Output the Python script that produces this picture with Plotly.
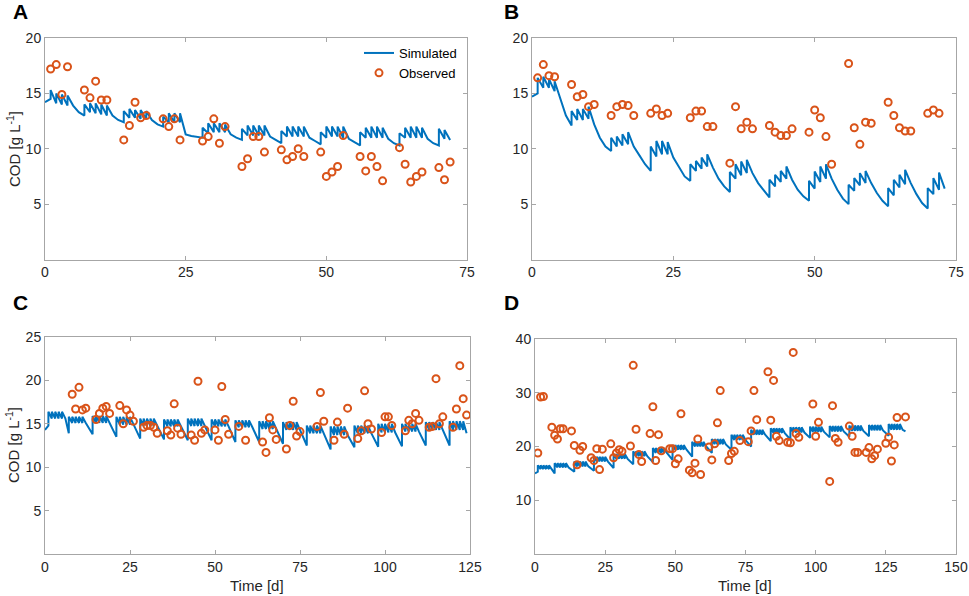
import plotly.graph_objects as go
from plotly.subplots import make_subplots

# ---- panel A: simulated line, read per feeding day ----
a_start = (0, 14.2)
a_days = [[1, 2, 3, 4], [7, 8, 9, 10, 11], [14, 15, 16, 17, 18], [21, 22, 23, 24],
          [28, 29, 30, 31, 32], [35, 36, 37, 38, 39], [42, 43, 44, 45, 46],
          [49, 50, 51, 52, 53], [56, 57, 58, 59, 60], [63, 64, 65, 66, 67], [70, 71]]
a_troughs = [[14.5, 14.1, 14.0, 13.9], [13.0, 13.3, 13.2, 13.1, 13.0], [12.4, 12.8, 12.8, 12.7, 12.7],
             [12.0, 12.4, 12.4, 12.4], [11.0, 11.4, 11.5, 11.5, 11.5], [10.8, 11.2, 11.2, 11.2, 11.2],
             [10.5, 11.1, 11.1, 11.1, 11.1], [10.4, 11.0, 11.1, 11.1, 11.0], [10.3, 11.0, 11.0, 11.0, 11.0],
             [10.3, 11.0, 11.0, 11.0, 11.0], [10.3, 10.9]]
a_peaks = [[15.3, 15.0, 14.9, 14.8], [14.0, 14.1, 14.1, 14.0, 13.9], [13.4, 13.6, 13.5, 13.5, 13.4],
           [12.9, 13.2, 13.2, 13.2], [11.9, 12.3, 12.3, 12.3, 12.2], [11.8, 12.1, 12.1, 12.1, 12.1],
           [11.6, 12.0, 12.0, 12.0, 12.0], [11.5, 12.0, 12.0, 12.0, 12.0], [11.5, 11.9, 12.0, 12.0, 11.9],
           [11.4, 11.9, 12.0, 12.0, 11.9], [11.8, 11.7]]
a_decay = [[13.9, 13.3], [13.0, 12.6], [12.6, 12.2], [11.3, 11.15, 11.05], [11.3, 11.0], [11.1, 10.8],
           [11.0, 10.7], [10.9, 10.6], [10.9, 10.5], [10.9, 10.5], [10.8]]

a_obs_t = [1, 2, 3, 4, 7, 8, 9, 10, 11, 14, 15, 16, 17, 18, 21, 22, 23, 24, 28, 29, 30, 31, 32,
           35, 36, 37, 38, 39, 42, 43, 44, 45, 46, 49, 50, 51, 52, 53, 56, 57, 58, 59, 60,
           63, 64, 65, 66, 67, 70, 71, 72]
a_obs_y = [17.2, 17.6, 14.9, 17.4, 15.3, 14.6, 16.1, 14.4, 14.4, 10.8, 12.1, 14.2, 12.8, 13.0,
           12.7, 12.0, 12.7, 10.8, 10.7, 11.1, 12.7, 10.5, 12.0, 8.4, 9.1, 11.1, 11.1, 9.7,
           9.9, 9.0, 9.3, 10.0, 9.3, 9.7, 7.5, 7.9, 8.4, 11.2, 9.3, 8.0, 9.3, 8.4, 7.1,
           10.1, 8.6, 7.0, 7.5, 7.9, 8.3, 7.2, 8.8]

# ---- panel B ----
b_start = (0, 14.7)
b_days = [[1, 2, 3, 4], [7, 8, 9, 10], [14, 15, 16, 17], [21, 22, 23, 24], [28, 29, 30, 31],
          [35, 36, 37, 38], [42, 43, 44, 45], [49, 50, 51, 52], [56, 57, 58, 59],
          [63, 64, 65, 66], [70, 71, 72]]
b_troughs = [[15.0, 15.5, 15.5, 15.2], [12.1, 12.6, 12.6, 12.7], [9.8, 10.2, 10.3, 10.4],
             [8.0, 9.3, 9.5, 9.5], [7.1, 8.0, 8.2, 8.4], [6.1, 7.3, 7.6, 7.8], [5.6, 6.6, 7.0, 7.3],
             [5.3, 6.4, 7.0, 7.3], [5.0, 6.2, 6.7, 6.9], [4.8, 5.8, 6.5, 6.8], [4.6, 5.9, 6.3]]
b_peaks = [[16.4, 16.5, 16.3, 16.1], [13.4, 13.6, 13.6, 13.8], [11.0, 11.1, 11.3, 11.5],
           [10.2, 10.7, 10.7, 10.6], [8.6, 8.9, 9.2, 9.5], [7.9, 8.6, 8.85, 9.0], [7.2, 7.65, 8.0, 8.4],
           [7.1, 7.95, 8.4, 8.6], [6.75, 7.35, 7.8, 8.0], [6.45, 7.2, 7.65, 8.1], [6.45, 7.35, 7.85]]
b_decay = [[14.5, 13.0], [12.2, 11.0, 10.2], [10.2, 9.4, 8.6], [9.2, 8.3, 7.5], [8.3, 7.3, 6.6],
           [7.8, 6.9, 6.2], [7.2, 6.3, 5.7], [7.3, 6.3, 5.5], [6.9, 6.0, 5.3], [6.9, 5.9, 5.1], [6.4]]

b_obs_t = [1, 2, 3, 4, 7, 8, 9, 10, 11, 14, 15, 16, 17, 18, 21, 22, 23, 24, 28, 29, 30, 31, 32,
           35, 36, 37, 38, 39, 42, 43, 44, 45, 46, 49, 50, 51, 52, 53, 56, 57, 58, 59, 60,
           63, 64, 65, 66, 67, 70, 71, 72]
b_obs_y = [16.4, 17.6, 16.6, 16.5, 15.8, 14.7, 14.9, 13.8, 14.0, 13.0, 13.8, 14.0, 13.9, 13.0,
           13.2, 13.6, 13.0, 13.2, 12.8, 13.4, 13.4, 12.0, 12.0, 8.7, 13.8, 11.8, 12.4, 11.8,
           12.1, 11.5, 11.2, 11.2, 11.8, 11.5, 13.5, 12.8, 11.1, 8.6, 17.7, 11.9, 10.4, 12.4, 12.3,
           14.2, 13.0, 11.9, 11.6, 11.6, 13.2, 13.5, 13.2]

# ---- panel C: weekly levels of the simulated line ----
c_start = (0, 14.3)
c_weeks = [1, 7, 14, 21, 28, 35, 42, 49, 56, 63, 70, 77, 84, 91, 98, 105, 112, 119]
c_low = [14.8, 13.9, 13.8, 13.5, 13.3, 13.2, 13.1, 13.1, 12.9, 12.9, 12.7, 12.5, 12.05, 12.3,
         12.35, 12.4, 12.5, 12.5]
c_trough = [15.6, 15.1, 15.1, 14.9, 14.75, 14.7, 14.75, 14.7, 14.6, 14.4, 14.3, 13.9, 13.7, 13.9,
            14.0, 14.1, 14.3, 14.3]
c_peak = [16.4, 15.8, 15.9, 15.8, 15.6, 15.5, 15.6, 15.5, 15.4, 15.3, 15.2, 14.8, 14.7, 14.8,
          15.0, 15.0, 15.2, 15.3]
c_end = [13.9]

c_obs_t = [8, 9, 10, 11, 12, 15, 16, 17, 18, 19, 22, 23, 24, 25, 26, 29, 30, 31, 32, 33,
           36, 37, 38, 39, 40, 43, 44, 45, 46, 47, 50, 51, 52, 53, 54, 57, 59, 64, 65, 66, 67, 68,
           71, 72, 73, 74, 75, 80, 81, 82, 85, 86, 88, 89, 92, 93, 94, 95, 96, 99, 100, 101, 102,
           106, 107, 108, 109, 110, 113, 114, 115, 116, 117, 120, 121, 122, 123, 124]
c_obs_y = [18.4, 16.7, 19.2, 16.6, 16.8, 15.5, 16.2, 16.8, 17.0, 16.2, 17.1, 15.0, 16.6, 16.0,
           15.3, 14.6, 14.8, 14.8, 14.6, 13.9, 14.2, 13.7, 17.3, 14.5, 13.8, 13.7, 13.1, 19.9,
           13.9, 14.3, 14.3, 13.1, 19.3, 15.5, 13.8, 14.7, 13.1, 12.9, 11.7, 15.7, 14.3, 13.2,
           12.1, 14.8, 17.6, 13.6, 14.1, 14.7, 18.6, 15.3, 13.1, 15.2, 13.8, 16.8, 13.3, 14.2,
           18.8, 15.0, 14.4, 14.0, 15.8, 15.8, 14.8, 14.2, 15.4, 15.0, 16.2, 15.4, 14.6, 14.7,
           20.2, 15.0, 15.8, 14.6, 16.7, 21.7, 17.9, 16.0]

# ---- panel D ----
d_start = (0, 15.0)
d_weeks = [1, 7, 14, 21, 28, 35, 42, 49, 56, 63, 70, 77, 84, 91, 98, 105, 112, 119, 126]
d_low = [15.3, 15.0, 15.3, 15.5, 16.0, 16.7, 17.1, 17.5, 18.1, 18.8, 19.4, 20.0, 21.0, 21.3,
         21.6, 21.7, 21.8, 21.9, 22.0]
d_trough = [15.8, 16.1, 16.3, 17.2, 17.7, 18.2, 18.8, 19.4, 20.0, 20.4, 21.2, 22.2, 22.5, 22.6,
            22.7, 22.8, 22.9, 23.0, 23.1]
d_peak = [16.5, 16.9, 17.2, 18.1, 18.6, 19.1, 19.7, 20.3, 20.9, 21.4, 22.2, 23.1, 23.4, 23.6,
          23.7, 23.8, 23.9, 24.0, 24.2]
d_end = [23.1, 22.8]

d_obs_t = [1, 2, 3, 6, 7, 8, 9, 10, 13, 14, 15, 16, 17, 20, 21, 22, 23, 24, 27, 28, 29, 30, 31,
           34, 35, 36, 37, 38, 41, 42, 43, 44, 45, 48, 49, 50, 51, 52, 55, 56, 57, 58, 59,
           62, 63, 64, 65, 66, 69, 70, 71, 73, 76, 77, 78, 79, 83, 84, 85, 86, 87, 90, 91, 92, 93, 94,
           99, 100, 101, 105, 106, 107, 108, 112, 113, 114, 115, 118, 119, 120, 121, 122,
           125, 126, 127, 128, 129, 132]
d_obs_y = [18.8, 29.2, 29.3, 23.6, 22.1, 21.4, 23.3, 23.3, 22.9, 20.2, 16.6, 19.3, 20.0,
           17.9, 17.4, 19.6, 15.7, 19.5, 20.5, 17.9, 18.8, 19.4, 19.1, 20.1, 35.1, 23.2, 18.5, 17.2,
           22.4, 27.4, 17.4, 22.2, 19.2, 19.6, 19.6, 16.8, 17.7, 26.1, 15.6, 15.1, 16.9, 21.4, 14.8,
           19.9, 17.5, 20.5, 24.4, 30.4, 17.4, 18.7, 19.1, 21.1, 20.9, 22.9, 30.4, 25.0,
           33.9, 24.9, 32.3, 21.9, 21.1, 20.8, 20.7, 37.5, 22.4, 21.7, 27.9, 21.9, 24.5,
           13.5, 27.6, 21.5, 20.8, 23.8, 21.9, 18.9, 18.9, 18.9, 19.8, 17.7, 18.3, 19.5,
           20.6, 21.7, 17.3, 20.3, 25.4, 25.5]

BLUE = '#0072BD'
ORANGE = '#D95319'
FONT = 'Liberation Sans, Arial, sans-serif'
W, H = 969, 596


def sawtooth(start, days, troughs, peaks, decay):
    # each feeding is a vertical jump from the trough to the peak
    t, y = [start[0]], [start[1]]
    for d, tr, pk, dec in zip(days, troughs, peaks, decay):
        for di, lo, hi in zip(d, tr, pk):
            t += [di, di]
            y += [lo, hi]
        for k, v in enumerate(dec, 1):
            t.append(d[-1] + k)
            y.append(v)
    return t, y


def weekly(weeks, low, trough, peak, end):
    days = [[s, s + 1, s + 2, s + 3, s + 4] for s in weeks]
    troughs = [[lo] + [tr] * 4 for lo, tr in zip(low, trough)]
    peaks = [[pk] * 5 for pk in peak]
    decay = [[tr] for tr in trough[:-1]] + [end]
    return days, troughs, peaks, decay


def px_x(a, b):
    return [a / W, b / W]


def px_y(top, bottom):
    return [1 - bottom / H, 1 - top / H]


sim = {
    'A': sawtooth(a_start, a_days, a_troughs, a_peaks, a_decay),
    'B': sawtooth(b_start, b_days, b_troughs, b_peaks, b_decay),
    'C': sawtooth(c_start, *weekly(c_weeks, c_low, c_trough, c_peak, c_end)),
    'D': sawtooth(d_start, *weekly(d_weeks, d_low, d_trough, d_peak, d_end)),
}
obs = {'A': (a_obs_t, a_obs_y), 'B': (b_obs_t, b_obs_y),
       'C': (c_obs_t, c_obs_y), 'D': (d_obs_t, d_obs_y)}
pos = {'A': (1, 1), 'B': (1, 2), 'C': (2, 1), 'D': (2, 2)}

fig = make_subplots(rows=2, cols=2)
for p in 'ABCD':
    r, c = pos[p]
    fig.add_trace(go.Scatter(x=sim[p][0], y=sim[p][1], mode='lines', name='Simulated',
                             line=dict(color=BLUE, width=2), showlegend=(p == 'A')), row=r, col=c)
    fig.add_trace(go.Scatter(x=obs[p][0], y=obs[p][1], mode='markers', name='Observed',
                             marker=dict(symbol='circle-open', size=7, color=ORANGE,
                                         line=dict(width=2, color=ORANGE)),
                             showlegend=(p == 'A')), row=r, col=c)

axis_style = dict(showline=True, linecolor='#a6a6a6', linewidth=1, mirror='ticks',
                  ticks='inside', ticklen=4, tickcolor='#a6a6a6', showgrid=False, zeroline=False,
                  automargin=False, tickfont=dict(family=FONT, size=14, color='#262626'))

fig.update_xaxes(**axis_style)
fig.update_yaxes(**axis_style)

fig.update_layout(
    xaxis=dict(domain=px_x(45, 467), range=[0, 75], tickvals=[0, 25, 50, 75]),
    yaxis=dict(domain=px_y(38, 259.5), range=[0, 20], tickvals=[5, 10, 15, 20]),
    xaxis2=dict(domain=px_x(532, 956), range=[0, 75], tickvals=[0, 25, 50, 75]),
    yaxis2=dict(domain=px_y(38, 259.5), range=[0, 20], tickvals=[5, 10, 15, 20]),
    xaxis3=dict(domain=px_x(45, 470), range=[0, 125], tickvals=[0, 25, 50, 75, 100, 125]),
    yaxis3=dict(domain=px_y(337, 554), range=[0, 25], tickvals=[5, 10, 15, 20, 25]),
    xaxis4=dict(domain=px_x(535, 956), range=[0, 150], tickvals=[0, 25, 50, 75, 100, 125, 150]),
    yaxis4=dict(domain=px_y(339, 554), range=[0, 40], tickvals=[10, 20, 30, 40]),
)


def label(text, x, y, size, angle=0, bold=False):
    return dict(text=text, x=x / W, y=1 - y / H, xref='paper', yref='paper',
                xanchor='center', yanchor='middle', textangle=angle, showarrow=False,
                font=dict(family=FONT, size=size, color='black' if bold else '#262626'))


annotations = [
    label('<b>A</b>', 20, 12, 21, bold=True),
    label('<b>B</b>', 512, 12, 21, bold=True),
    label('<b>C</b>', 20, 302, 21, bold=True),
    label('<b>D</b>', 512, 302, 21, bold=True),
    label('COD [g L<sup>-1</sup>]', 13, 149, 15, angle=-90),
    label('COD [g L<sup>-1</sup>]', 13, 445, 15, angle=-90),
    label('Time [d]', 257, 585, 15),
    label('Time [d]', 745, 585, 15),
]

fig.update_layout(
    width=W, height=H,
    margin=dict(l=0, r=0, t=0, b=0, autoexpand=False),
    paper_bgcolor='white', plot_bgcolor='white',
    annotations=annotations,
    legend=dict(x=462 / W, y=1 - 38 / H, xanchor='right', yanchor='top', bgcolor='rgba(0,0,0,0)',
                font=dict(family=FONT, size=13, color='black'), tracegroupgap=0),
)

fig.write_html("out.html", config={'displayModeBar': False},
               post_script="document.body.style.margin='0px';")
